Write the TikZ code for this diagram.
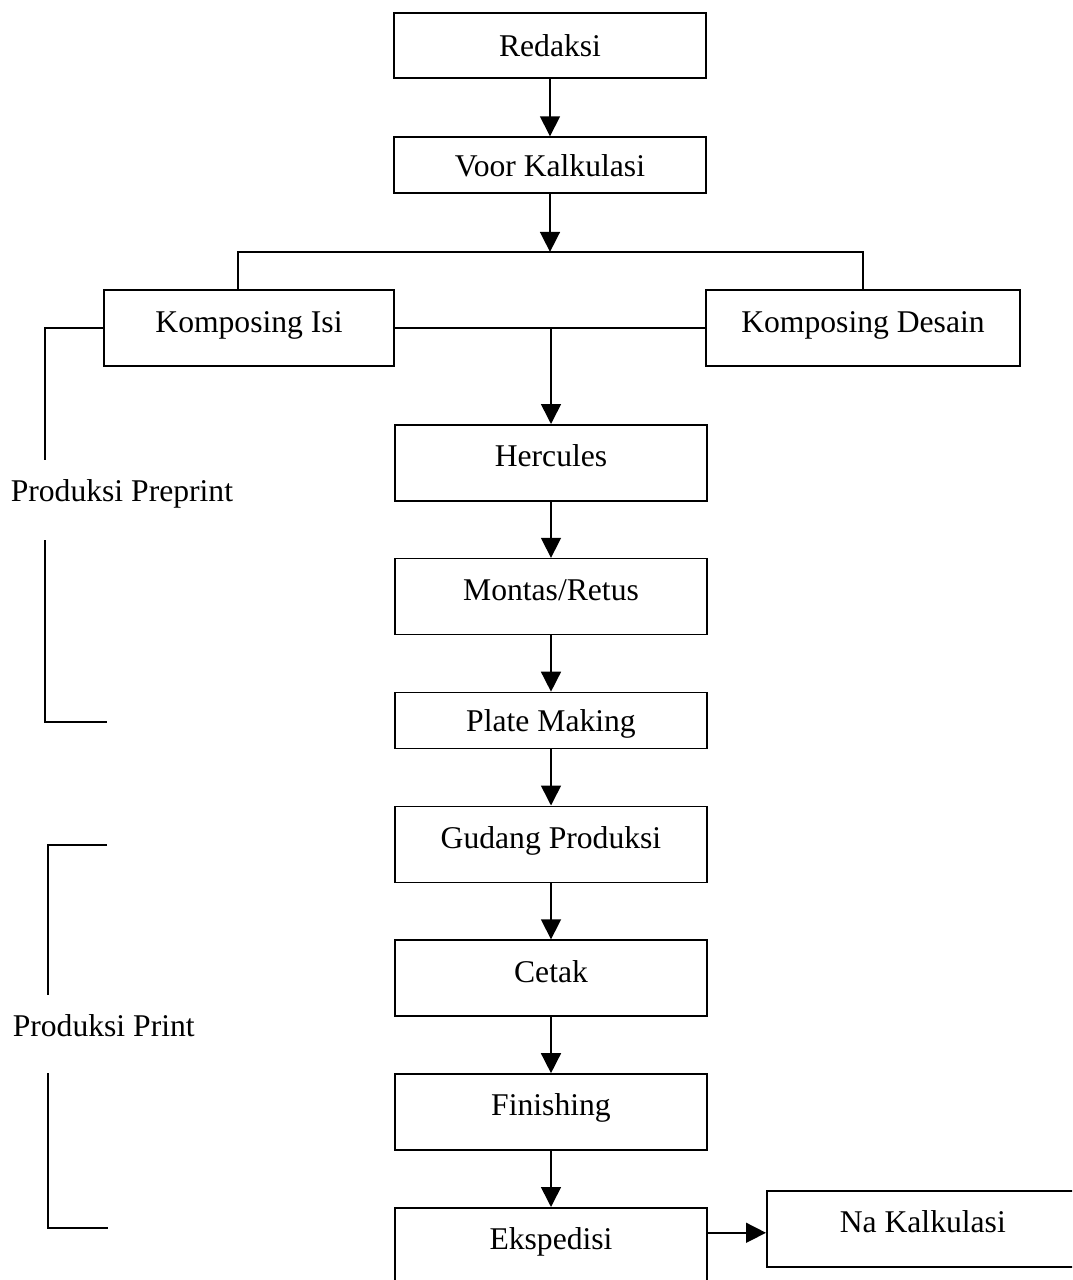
\documentclass[tikz,border=0pt]{standalone}
\usepackage{fontspec}
\setmainfont{Liberation Serif}
\usetikzlibrary{positioning,arrows.meta}

\begin{document}
\begin{tikzpicture}[>={Triangle[length=0.4cm,width=0.4cm]}, line width=0.9pt,
    box/.style={draw,minimum width=6.24cm,minimum height=1.52cm,inner sep=0pt,
      font=\fontsize{18}{22}\selectfont,text height=0.44cm,text depth=0.28cm},
    lowbox/.style={box,minimum height=1.12cm,text depth=0cm},
    lbl/.style={inner sep=0pt,font=\fontsize{18}{22}\selectfont}]
    \useasboundingbox (0,0) rectangle (21.44,-25.6);
    \clip (0,0) rectangle (21.44,-25.6);
    % main chain
    \node[lowbox,minimum height=1.3cm] (red) at (11.0,-0.91) {Redaksi};
    \node[lowbox,below=1.15cm of red] (voor) {Voor Kalkulasi};
    \coordinate[below=1.16cm of voor.south] (split);
    \node[box,minimum width=5.8cm] (isi) at (4.98,-6.56) {Komposing Isi};
    \node[box,minimum width=6.28cm] (desain) at (17.26,-6.56) {Komposing Desain};
    \node[box,anchor=north] (herc) at (11.02,-8.48) {Hercules};
    \node[box,below=1.125cm of herc] (montas) {Montas/Retus};
    \node[lowbox,below=1.125cm of montas] (plate) {Plate Making};
    \node[box,below=1.125cm of plate] (gudang) {Gudang Produksi};
    \node[box,below=1.125cm of gudang] (cetak) {Cetak};
    \node[box,below=1.125cm of cetak] (fin) {Finishing};
    \node[box,below=1.125cm of fin] (eks) {Ekspedisi};
    \node[box,anchor=north west] (na) at (15.32,-23.8) {Na Kalkulasi};
    % connectors
    \draw[->] (red) -- (voor);
    \draw[->] (voor) -- (split);
    \draw ([xshift=-0.22cm]isi.north) |- (split) -| (desain.north);
    \draw (isi) -- (desain);
    \coordinate (mid) at (isi.east -| herc.north);
    \draw[->] (mid) -- (herc);
    \foreach \a/\b in {herc/montas,montas/plate,plate/gudang,gudang/cetak,cetak/fin,fin/eks}
      \draw[->] (\a) -- (\b);
    \coordinate (ek) at ([yshift=0.26cm]eks.east);
    \draw[->] (ek) -- (ek -| na.west);
    % brackets
    \node[lbl,anchor=base west] (pre) at (0.2,-10.02) {Produksi Preprint};
    \node[lbl,anchor=base west] (prt) at (0.24,-20.72) {Produksi Print};
    \coordinate (pp1) at (0.9,-9.2);
    \coordinate (pp2) at (0.9,-10.8);
    \coordinate (pp3) at (2.14,-14.44);
    \draw (isi.west) -| (pp1);
    \draw (pp2) |- (pp3);
    \coordinate (pr0) at (2.14,-16.9);
    \coordinate (pr1) at (0.96,-19.9);
    \coordinate (pr2) at (0.96,-21.46);
    \coordinate (pr3) at (2.16,-24.56);
    \draw (pr0) -| (pr1);
    \draw (pr2) |- (pr3);
\end{tikzpicture}
\end{document}
